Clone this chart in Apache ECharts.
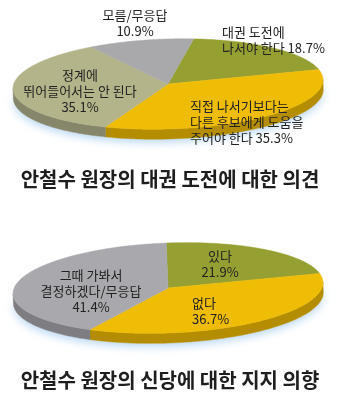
<!DOCTYPE html>
<html>
<head>
<meta charset="utf-8">
<script src="https://cdn.jsdelivr.net/npm/echarts@6/dist/echarts.min.js"></script>
<style>
  html, body { margin: 0; padding: 0; background: #fff; }
  #main { width: 340px; height: 400px; }
</style>
</head>
<body>
<div id="main"></div>
<script>
// 안철수 원장의 대권 도전에 대한 의견
var topTitle = '안철수 원장의 대권 도전에 대한 의견';
var topNames = ['대권 도전에\n나서야 한다', '직접 나서기보다는\n다른 후보에게 도움을\n주어야 한다', '정계에\n뛰어들어서는 안 된다', '모름/무응답'];
var topValues = [18.7, 35.3, 35.1, 10.9];

// 안철수 원장의 신당에 대한 지지 의향
var bottomTitle = '안철수 원장의 신당에 대한 지지 의향';
var bottomNames = ['있다', '없다', '그때 가봐서\n결정하겠다/무응답'];
var bottomValues = [21.9, 36.7, 41.4];

var font = '"Noto Sans CJK KR", "Noto Sans", sans-serif';

var topLayout = {
  cx: 168, cy: 84, rx: 155, ry: 45, depth: 10, tilt: 0.03, start: -80,
  colors: ['#96a032', '#efbd06', '#b4b48a', '#a9a9ac'],
  sides: ['#6f7620', '#b48d00', '#86866a', '#7d7d80'],
  labels: [
    { x: 222, y: 40, align: 'left', sep: ' ' },
    { x: 190, y: 122, align: 'left', sep: ' ' },
    { x: 80, y: 91, align: 'center', sep: '\n' },
    { x: 135, y: 23, align: 'center', sep: '\n' }
  ]
};
var bottomLayout = {
  cx: 168, cy: 288, rx: 155, ry: 45, depth: 10, tilt: 0.038, start: -90,
  colors: ['#96a032', '#efbd06', '#a9a9ad'],
  sides: ['#6f7620', '#b48d00', '#7d7d82'],
  labels: [
    { x: 220, y: 264, align: 'center', sep: '\n' },
    { x: 192, y: 311, align: 'left', sep: '\n' },
    { x: 91, y: 291, align: 'center', sep: '\n' }
  ]
};

function arc(l, a0, a1, dy) {
  var pts = [];
  var n = Math.max(2, Math.ceil(Math.abs(a1 - a0)));
  for (var k = 0; k <= n; k++) {
    var a = (a0 + (a1 - a0) * k / n) * Math.PI / 180;
    pts.push([l.cx + l.rx * Math.cos(a), l.cy + l.ry * Math.sin(a) + dy]);
  }
  return pts;
}

function pieSeries(names, values, l) {
  var total = values.reduce(function (a, b) { return a + b; }, 0);
  var starts = [];
  var acc = l.start;
  values.forEach(function (v) { starts.push(acc); acc += v / total * 360; });
  return {
    type: 'custom',
    coordinateSystem: 'none',
    data: values.map(function (v, i) { return { name: names[i], value: v }; }),
    renderItem: function (params, api) {
      var i = params.dataIndex;
      var a0 = starts[i];
      var a1 = a0 + values[i] / total * 360;
      var shapes = [];
      if (i === 0) {
        // faint bluish glow under the disc
        var rim = arc(l, 0, 180, 0).concat(arc(l, 180, 0, l.depth));
        shapes.push({
          type: 'polygon', z2: 0, shape: { points: rim },
          style: { fill: '#fff', shadowColor: 'rgba(150,195,235,0.7)', shadowBlur: 8, shadowOffsetY: 3 }
        });
      }
      // side of the slice, only the front half of the ellipse shows
      [[0, 180], [360, 540]].forEach(function (r) {
        var s = Math.max(a0, r[0]), e = Math.min(a1, r[1]);
        if (e > s) {
          var pts = arc(l, s, e, 0).concat(arc(l, e, s, l.depth));
          shapes.push({ type: 'polygon', z2: 1, shape: { points: pts }, style: { fill: l.sides[i], stroke: l.sides[i], lineWidth: 0.5 } });
        }
      });
      var top = [[l.cx, l.cy]].concat(arc(l, a0, a1, 0));
      shapes.push({ type: 'polygon', z2: 2, shape: { points: top }, style: { fill: l.colors[i], stroke: l.colors[i], lineWidth: 0.5 } });
      var lb = l.labels[i];
      return {
        type: 'group',
        children: [
          {
            type: 'group', rotation: l.tilt, originX: l.cx, originY: l.cy,
            children: shapes
          },
          {
            type: 'text', z2: 10,
            style: {
              text: names[i] + lb.sep + values[i] + '%',
              x: lb.x, y: lb.y, align: lb.align, verticalAlign: 'middle',
              font: '13px ' + font, lineHeight: 16, fill: '#222'
            }
          }
        ]
      };
    }
  };
}

var chart = echarts.init(document.getElementById('main'));
var option = {
  backgroundColor: '#fff',
  animation: false,
  title: [{
    text: topTitle, left: 'center', top: 164,
    textStyle: { fontFamily: font, fontSize: 20, fontWeight: 'bold', color: '#1e1e1e' }
  }, {
    text: bottomTitle, left: 'center', top: 365,
    textStyle: { fontFamily: font, fontSize: 20, fontWeight: 'bold', color: '#1e1e1e' }
  }],
  series: [pieSeries(topNames, topValues, topLayout), pieSeries(bottomNames, bottomValues, bottomLayout)]
};
chart.setOption(option);
</script>
</body>
</html>
